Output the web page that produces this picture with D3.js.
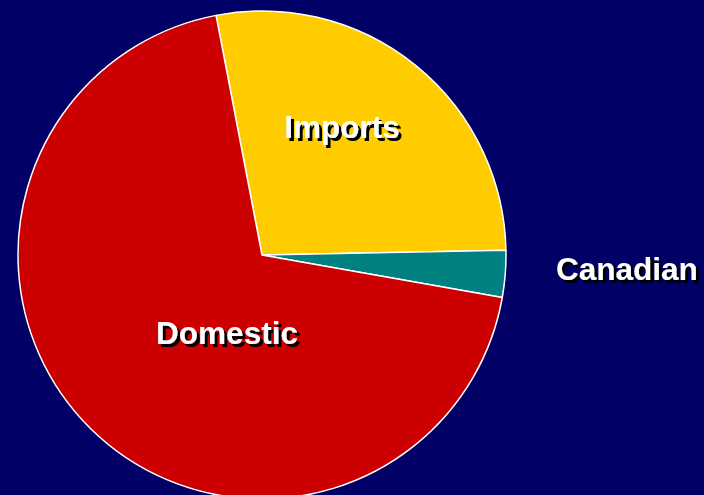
<!DOCTYPE html>
<html><head><meta charset="utf-8">
<script src="https://cdn.jsdelivr.net/npm/d3@7"></script>
<style>html,body{margin:0;padding:0;background:#000066;overflow:hidden}</style>
</head><body>
<svg id="c" width="704" height="495"></svg>
<script>
const categories = ["Imports", "Canadian", "Domestic"];
const values = [27.7, 3.1, 69.2];
const colors = ["#FFCC00", "#008080", "#CC0000"];

const svg = d3.select("#c");
const defs = svg.append("defs");
const f = defs.append("filter").attr("id", "sh").attr("x", "-10%").attr("y", "-20%").attr("width", "130%").attr("height", "160%");
f.append("feDropShadow").attr("dx", 3).attr("dy", 3).attr("stdDeviation", 0)
  .attr("flood-color", "#000000").attr("flood-opacity", 1);

svg.append("rect").attr("width", 704).attr("height", 495).attr("fill", "#000066");

const cx = 262, cy = 255, R = 244;
const data = categories.map((c, i) => ({cat: c, value: values[i], color: colors[i]}));
const pie = d3.pie().value(d => d.value).sort(null)
  .startAngle(-10.85 * Math.PI / 180).endAngle((360 - 10.85) * Math.PI / 180);
const arcs = pie(data);
const arc = d3.arc().innerRadius(0).outerRadius(R);

const g = svg.append("g").attr("transform", `translate(${cx},${cy})`);
g.selectAll("path").data(arcs).enter().append("path")
  .attr("d", arc).attr("fill", d => d.data.color)
  .attr("stroke", "#ffffff").attr("stroke-width", 1.5).attr("stroke-linejoin", "round");

// label placement relative to the pie centre
const labelLayout = {
  "Imports": {x: 80, y: -128, anchor: "middle"},
  "Canadian": {x: 294, y: 14, anchor: "start"},
  "Domestic": {x: -35, y: 78, anchor: "middle"}
};
g.selectAll("text.lbl").data(arcs).enter().append("text")
  .attr("class", "lbl")
  .attr("x", d => labelLayout[d.data.cat].x)
  .attr("y", d => labelLayout[d.data.cat].y)
  .attr("text-anchor", d => labelLayout[d.data.cat].anchor)
  .attr("dominant-baseline", "central")
  .attr("font-family", "Liberation Sans, Arial, sans-serif")
  .attr("font-weight", "bold").attr("font-size", 31.5)
  .attr("fill", "#ffffff").attr("filter", "url(#sh)")
  .text(d => d.data.cat);
</script>
</body></html>
